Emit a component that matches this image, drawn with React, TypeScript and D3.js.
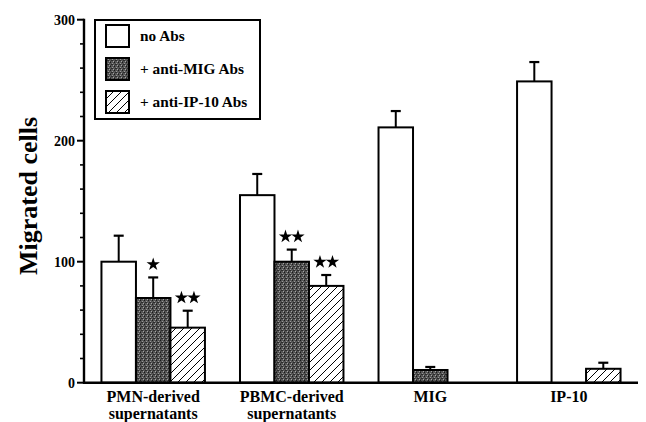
import React from 'react';
import * as d3 from 'd3';

const groups = [['PMN-derived', 'supernatants'], ['PBMC-derived', 'supernatants'], ['MIG'], ['IP-10']];
const seriesNames = ['no Abs', '+ anti-MIG Abs', '+ anti-IP-10 Abs'];

const noAbs = [100, 155, 211, 249];
const noAbsErr = [21.5, 17.5, 13.5, 16];
const antiMIG = [70, 100, 10.5, null];
const antiMIGErr = [17, 10, 2.5, null];
const antiIP10 = [45.5, 80, null, 11.5];
const antiIP10Err = [14, 9, null, 5];

const antiMIGStars = ['*', '**', '', ''];
const antiIP10Stars = ['**', '**', '', ''];

const yMajor = [0, 100, 200, 300];

const W = 646, H = 422;
const fontFam = '"Liberation Serif", "Times New Roman", serif';

export default function App() {
  const x = d3.scaleBand<number>().domain(d3.range(groups.length)).range([84, 638]).paddingInner(0.253).paddingOuter(0.126);
  const xs = d3.scaleBand<number>().domain([0, 1, 2]).range([0, x.bandwidth()]);
  const y = d3.scaleLinear().domain([0, 300]).range([382.7, 19.7]);

  const values = [noAbs, antiMIG, antiIP10];
  const errs = [noAbsErr, antiMIGErr, antiIP10Err];
  const stars = [null, antiMIGStars, antiIP10Stars];
  const fills = ['#fff', 'url(#stipple)', 'url(#hatch)'];

  const minor = d3.range(0, 301, 20).filter(v => v % 100 !== 0);
  const star = d3.symbol(d3.symbolStar, 55)();

  const bars: React.ReactNode[] = [];
  groups.forEach((_, gi) => {
    values.forEach((vals, si) => {
      const v = vals[gi];
      if (v == null) return;
      const x0 = (x(gi) as number) + (xs(si) as number);
      const bw = xs.bandwidth();
      const cx = x0 + bw / 2;
      const e = errs[si][gi] as number;
      const yt = y(v + e);
      bars.push(
        <g key={`${gi}-${si}`}>
          <line x1={cx} x2={cx} y1={y(v)} y2={yt} stroke="#000" strokeWidth={2} />
          <line x1={cx - 5} x2={cx + 5} y1={yt} y2={yt} stroke="#000" strokeWidth={2.2} />
          <rect x={x0} y={y(v)} width={bw} height={y(0) - y(v)} fill={fills[si]} stroke="#000" strokeWidth={2} />
          {stars[si] && stars[si]![gi] ? (
            stars[si]![gi].split('').map((_, k, arr) => (
              <path key={k} d={star as string} fill="#000"
                transform={`translate(${cx + (k - (arr.length - 1) / 2) * 12.5},${yt - 13})`} />
            ))
          ) : null}
        </g>
      );
    });
  });

  return (
    <svg width={W} height={H} style={{ position: 'absolute', left: 0, top: 0, background: '#fff' }} fontFamily={fontFam}>
      <defs>
        <pattern id="stipple" width={4} height={4} patternUnits="userSpaceOnUse">
          <rect width={4} height={4} fill="#555" />
          <rect x={0} y={0} width={1} height={1} fill="#1a1a1a" />
          <rect x={2} y={1} width={1} height={1} fill="#999" />
          <rect x={1} y={2} width={2} height={1} fill="#2a2a2a" />
          <rect x={3} y={3} width={1} height={1} fill="#a5a5a5" />
          <rect x={0} y={3} width={1} height={1} fill="#3a3a3a" />
        </pattern>
        <pattern id="hatch" width={8} height={8} patternUnits="userSpaceOnUse">
          <rect width={8} height={8} fill="#fff" />
          <path d="M-2,10 L10,-2 M-2,2 L2,-2 M6,10 L10,6" stroke="#000" strokeWidth={1} />
        </pattern>
      </defs>

      {bars}

      {/* axes */}
      <line x1={84} x2={84} y1={y(300) - 1} y2={y(0) + 1} stroke="#000" strokeWidth={2.4} />
      <line x1={83} x2={638} y1={y(0)} y2={y(0)} stroke="#000" strokeWidth={2.4} />
      {yMajor.map(v => (
        <g key={v}>
          <line x1={77} x2={84} y1={y(v)} y2={y(v)} stroke="#000" strokeWidth={2} />
          <text x={75} y={y(v)} dy="0.35em" textAnchor="end" fontWeight="bold" fontSize={14}>{v}</text>
        </g>
      ))}
      {minor.map(v => (
        <line key={v} x1={80} x2={84} y1={y(v)} y2={y(v)} stroke="#000" strokeWidth={1.6} />
      ))}

      <text transform={`translate(37,196) rotate(-90)`} textAnchor="middle" fontWeight="bold" fontSize={26}>Migrated cells</text>

      {groups.map((lines, gi) => (
        <text key={gi} x={(x(gi) as number) + x.bandwidth() / 2} y={401.5} textAnchor="middle" fontWeight="bold" fontSize={16}>
          {lines.map((l, k) => (
            <tspan key={k} x={(x(gi) as number) + x.bandwidth() / 2} dy={k === 0 ? 0 : 17}>{l}</tspan>
          ))}
        </text>
      ))}

      {/* legend */}
      <rect x={95} y={20} width={165} height={99} fill="#fff" stroke="#000" strokeWidth={2} />
      {seriesNames.map((n, i) => (
        <g key={n} transform={`translate(106,${25 + i * 33})`}>
          <rect width={23} height={22} fill={fills[i]} stroke="#000" strokeWidth={2} />
          <text x={34} y={11} dy="0.35em" fontWeight="bold" fontSize={15.3}>{n}</text>
        </g>
      ))}
    </svg>
  );
}
